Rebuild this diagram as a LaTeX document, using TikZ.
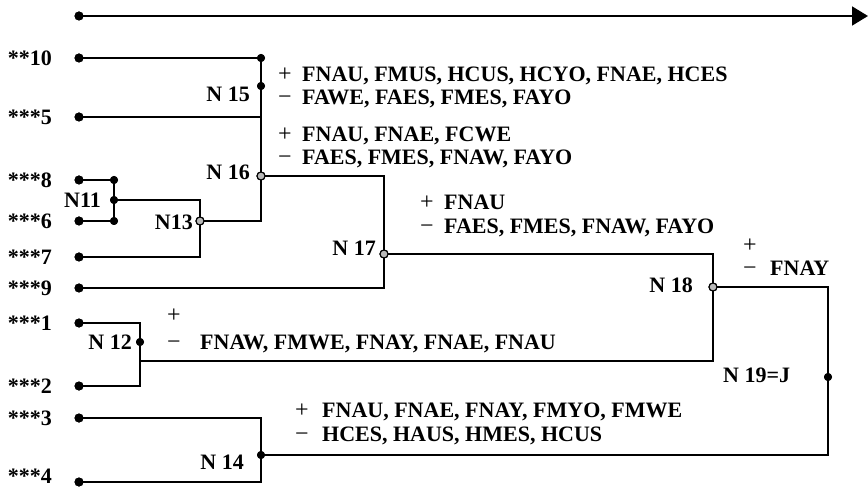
\documentclass[tikz,border=0pt]{standalone}
\usepackage{fontspec}
\setmainfont{Liberation Serif}
\usetikzlibrary{arrows.meta}
\begin{document}
\begin{tikzpicture}[x=1pt,y=-1pt,
  wire/.style={line width=1.8pt},
  lbl/.style={font=\fontsize{22}{24}\selectfont\bfseries, inner sep=0pt, text height=15pt, text depth=0pt},
  sgn/.style={font=\fontsize{24}{26}\selectfont, inner sep=0pt, text height=15pt, text depth=0pt},
  indot/.style={circle, fill=black, inner sep=0pt, minimum size=9pt},
  jdot/.style={circle, fill=black, inner sep=0pt, minimum size=8pt},
  rdot/.style={circle, fill=gray!55, draw=black, line width=1.1pt, inner sep=0pt, minimum size=8pt}]
\useasboundingbox (0,0) rectangle (868,489);
% input dots
\node[indot] (top) at (79,16) {};
\node[indot] (a10) at (79,58) {};
\node[indot] (a5) at (79,117) {};
\node[indot] (a8) at (79,180) {};
\node[indot] (a6) at (79,221) {};
\node[indot] (a7) at (79,257) {};
\node[indot] (a9) at (79,288) {};
\node[indot] (a1) at (79,323) {};
\node[indot] (a2) at (79,386) {};
\node[indot] (a3) at (79,418) {};
\node[indot] (a4) at (79,482) {};
% corners
\coordinate (tip) at (868,16);
\coordinate (c5) at (261,117);
\coordinate (c13) at (261,221);
\coordinate (c11) at (200,200);
\coordinate (c7) at (200,257);
\coordinate (c16) at (384,176);
\coordinate (c9) at (384,288);
\coordinate (c17) at (713,254);
\coordinate (c12) at (713,361);
\coordinate (c12l) at (140,361);
\coordinate (c1) at (140,323);
\coordinate (c2) at (140,386);
\coordinate (c18) at (828,287);
\coordinate (c14) at (828,455);
\coordinate (c3) at (261,418);
\coordinate (c4) at (261,482);
% junction dots
\node[jdot] (j10) at (261,58) {};
\node[jdot] (n15) at (261,86) {};
\node[rdot] (n16) at (261,176) {};
\node[jdot] (j8) at (114,180) {};
\node[jdot] (n11) at (114,200) {};
\node[jdot] (j6) at (114,221) {};
\node[rdot] (n13) at (200,221) {};
\node[rdot] (n17) at (384,254) {};
\node[rdot] (n18) at (713,287) {};
\node[jdot] (n12) at (140,342) {};
\node[jdot] (n19) at (828,377) {};
\node[jdot] (n14) at (261,455) {};
% wires
\draw[wire, -{Triangle[length=16pt,width=19pt]}] (top.center) -- (tip);
\draw[wire] (a10.center) -- (j10.center) -- (c5) -- (n16.center) -- (c13) -- (n13.center);
\draw[wire] (a5.center) -- (c5);
\draw[wire] (a8.center) -- (j8.center) -- (j6.center) -- (a6.center);
\draw[wire] (n11.center) -- (c11) -- (c7) -- (a7.center);
\draw[wire] (n16.center) -- (c16) -- (c9) -- (a9.center);
\draw[wire] (n17.center) -- (c17) -- (c12) -- (c12l);
\draw[wire] (a1.center) -- (c1) -- (c2) -- (a2.center);
\draw[wire] (n18.center) -- (c18) -- (c14) -- (n14.center);
\draw[wire] (a3.center) -- (c3) -- (c4) -- (a4.center);
% redraw dots on top
\foreach \d in {top,a10,a5,a8,a6,a7,a9,a1,a2,a3,a4} \node[indot] at (\d) {};
\foreach \d in {j10,n15,j8,n11,j6,n12,n19,n14} \node[jdot] at (\d) {};
\foreach \d in {n16,n13,n17,n18} \node[rdot] at (\d) {};
% input labels
\node[lbl, anchor=east] (l10) at (52,58) {**10};
\node[lbl, anchor=east] (l5) at (52,117) {***5};
\node[lbl, anchor=east] (l8) at (52,180) {***8};
\node[lbl, anchor=east] (l6) at (52,221) {***6};
\node[lbl, anchor=east] (l7) at (52,257) {***7};
\node[lbl, anchor=east] (l9) at (52,288) {***9};
\node[lbl, anchor=east] (l1) at (52,323) {***1};
\node[lbl, anchor=east] (l2) at (52,386) {***2};
\node[lbl, anchor=east] (l3) at (52,418) {***3};
\node[lbl, anchor=east] (l4) at (52,476) {***4};
% node labels
\node[lbl, anchor=east] (t15) at (250,94) {N 15};
\node[lbl, anchor=east] (t16) at (250,172) {N 16};
\node[lbl, anchor=east] (t11) at (101,200) {N11};
\node[lbl, anchor=east] (t13) at (193,222) {N13};
\node[lbl, anchor=east] (t17) at (376,248) {N 17};
\node[lbl, anchor=east] (t18) at (693,285) {N 18};
\node[lbl, anchor=east] (t12) at (132,342) {N 12};
\node[lbl, anchor=west] (t19) at (723,375) {N 19=J};
\node[lbl, anchor=east] (t14) at (244,462) {N 14};
% block A
\node[sgn] (pA) at (285,74) {+};
\node[lbl, anchor=west] (tA1) at (302,74) {FNAU, FMUS, HCUS, HCYO, FNAE, HCES};
\node[sgn] (mA) at (285,97) {−};
\node[lbl, anchor=west] (tA2) at (302,97) {FAWE, FAES, FMES, FAYO};
% block B
\node[sgn] (pB) at (285,134) {+};
\node[lbl, anchor=west] (tB1) at (302,134) {FNAU, FNAE, FCWE};
\node[sgn] (mB) at (285,157) {−};
\node[lbl, anchor=west] (tB2) at (302,157) {FAES, FMES, FNAW, FAYO};
% block C
\node[sgn] (pC) at (427,202) {+};
\node[lbl, anchor=west] (tC1) at (444,202) {FNAU};
\node[sgn] (mC) at (427,226) {−};
\node[lbl, anchor=west] (tC2) at (444,226) {FAES, FMES, FNAW, FAYO};
% block D
\node[sgn] (pD) at (750,245) {+};
\node[sgn] (mD) at (750,268) {−};
\node[lbl, anchor=west] (tD2) at (770,268) {FNAY};
% block E
\node[sgn] (pE) at (174,315) {+};
\node[sgn] (mE) at (174,342) {−};
\node[lbl, anchor=west] (tE2) at (200,342) {FNAW, FMWE, FNAY, FNAE, FNAU};
% block F
\node[sgn] (pF) at (302,410) {+};
\node[lbl, anchor=west] (tF1) at (322,410) {FNAU, FNAE, FNAY, FMYO, FMWE};
\node[sgn] (mF) at (302,434) {−};
\node[lbl, anchor=west] (tF2) at (322,434) {HCES, HAUS, HMES, HCUS};
\end{tikzpicture}
\end{document}
